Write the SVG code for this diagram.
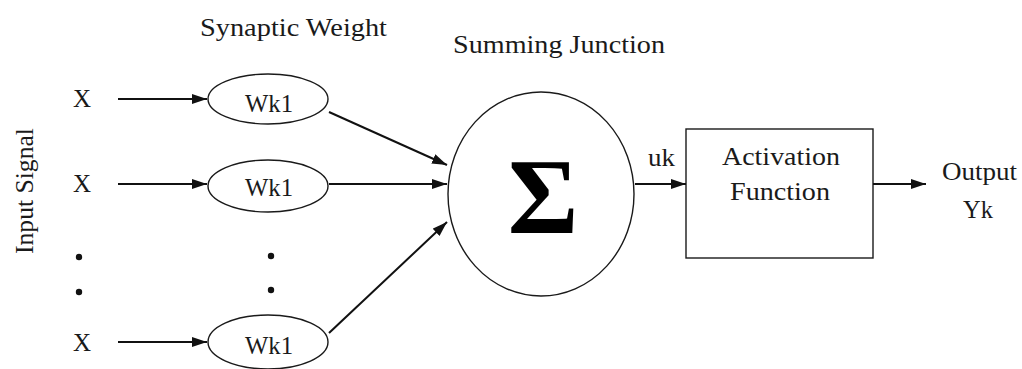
<svg xmlns="http://www.w3.org/2000/svg" width="1022" height="369" viewBox="0 0 1022 369">
<style>
text{font-family:"Liberation Serif","Times New Roman",serif;font-size:25px;fill:#1a1a1a;}
.c{text-anchor:middle;}
.s{fill:none;stroke:#1a1a1a;stroke-width:1.4;}
.l{stroke:#111;stroke-width:2;fill:none;}
</style>
<defs>
<marker id="ah" viewBox="0 0 15 10" refX="15" refY="5" markerWidth="15" markerHeight="10" markerUnits="userSpaceOnUse" orient="auto">
<path d="M0,0 L15,5 L0,10 Z" fill="#111"/>
</marker>
</defs>
<rect width="1022" height="369" fill="#fff"/>
<text x="200" y="36" textLength="187" lengthAdjust="spacingAndGlyphs">Synaptic Weight</text>
<text x="453" y="53" textLength="212" lengthAdjust="spacingAndGlyphs">Summing Junction</text>
<text transform="translate(33,254) rotate(-90)" textLength="126" lengthAdjust="spacingAndGlyphs">Input Signal</text>
<g id="x1"><text class="c" x="82" y="107">X</text></g>
<g id="x2"><text class="c" x="82" y="192">X</text></g>
<g id="x3"><text class="c" x="82" y="351">X</text></g>
<g id="dots1"><circle cx="79" cy="257" r="3.2" fill="#111"/><circle cx="79" cy="292" r="3.2" fill="#111"/></g>
<g id="dots2"><circle cx="271" cy="256" r="3.2" fill="#111"/><circle cx="271" cy="290" r="3.2" fill="#111"/></g>
<g id="w1"><ellipse class="s" cx="268" cy="99" rx="60" ry="25"/><text x="245" y="112" textLength="48" lengthAdjust="spacingAndGlyphs">Wk1</text></g>
<g id="w2"><ellipse class="s" cx="268" cy="186" rx="60" ry="26"/><text x="245" y="196" textLength="48" lengthAdjust="spacingAndGlyphs">Wk1</text></g>
<g id="w3"><ellipse class="s" cx="268" cy="342" rx="60" ry="27"/><text x="245" y="354" textLength="48" lengthAdjust="spacingAndGlyphs">Wk1</text></g>
<g id="sum"><ellipse class="s" cx="541" cy="194" rx="93" ry="102"/><text class="c" x="543" y="233" style="font-size:108px;font-weight:bold;fill:#000">Σ</text></g>
<g id="act"><rect class="s" x="686" y="129" width="187" height="129"/><text x="722" y="165" textLength="118" lengthAdjust="spacingAndGlyphs">Activation</text><text x="730" y="200" textLength="100" lengthAdjust="spacingAndGlyphs">Function</text></g>
<g id="out"><text x="942" y="180" textLength="75" lengthAdjust="spacingAndGlyphs">Output</text><text x="963" y="218" textLength="30" lengthAdjust="spacingAndGlyphs">Yk</text></g>
<text x="648" y="166" textLength="27" lengthAdjust="spacingAndGlyphs">uk</text>
<g id="connectors">
<line class="l" x1="118" y1="99" x2="207" y2="99" marker-end="url(#ah)"/>
<line class="l" x1="118" y1="184" x2="207" y2="184" marker-end="url(#ah)"/>
<line class="l" x1="118" y1="342" x2="207" y2="342" marker-end="url(#ah)"/>
<line class="l" x1="329" y1="112" x2="447" y2="165" marker-end="url(#ah)"/>
<line class="l" x1="329" y1="184" x2="447" y2="184" marker-end="url(#ah)"/>
<line class="l" x1="329" y1="333" x2="447" y2="222" marker-end="url(#ah)"/>
<line class="l" x1="635" y1="184" x2="686" y2="184" marker-end="url(#ah)"/>
<line class="l" x1="873" y1="184" x2="926" y2="184" marker-end="url(#ah)"/>
</g>
</svg>
